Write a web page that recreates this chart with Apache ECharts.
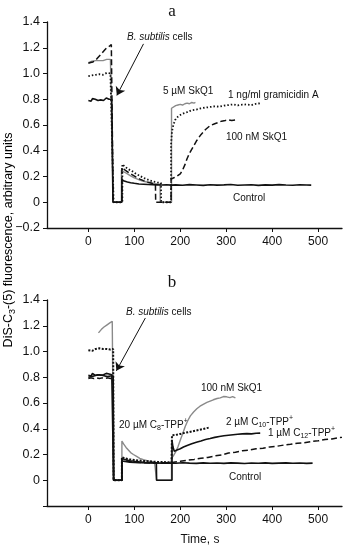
<!DOCTYPE html>
<html>
<head>
<meta charset="utf-8">
<script src="https://cdn.jsdelivr.net/npm/echarts@6/dist/echarts.min.js"></script>
<style>
html, body { margin: 0; padding: 0; background: #fff; }
#chart { width: 343px; height: 547px; }
</style>
</head>
<body>
<div id="chart"></div>
<script>
// Axis ticks (time in seconds, fluorescence in arbitrary units)
const timeTicks = [0, 100, 200, 300, 400, 500];
const timeRange = [-90, 552];
const fluoRange = [-0.2, 1.4];
const fluoStep = 0.2;

// ---- Panel a: traces [time, fluorescence] ----
const ctrlA = [
  [0,0.79],[3,0.80],[6,0.785],[9,0.805],[12,0.795],[15,0.80],[18,0.81],[21,0.79],[24,0.80],[27,0.795],
  [30,0.805],[33,0.79],[36,0.80],[39,0.81],[42,0.795],[45,0.80],[48,0.79],[51,0.80],[53,0.80],
  [53.5,0],[73,0],[73,0.17],[78,0.165],[85,0.158],[92,0.152],[100,0.147],[110,0.142],[120,0.14],
  [130,0.138],[140,0.136],[150,0.135],[160,0.134],[170,0.136],[180,0.133],
  [190,0.135],[205,0.132],[220,0.137],[235,0.134],[250,0.131],[265,0.136],[280,0.133],[295,0.135],
  [310,0.138],[325,0.132],[340,0.134],[355,0.136],[370,0.131],[385,0.135],[400,0.133],[415,0.137],
  [430,0.134],[445,0.132],[460,0.136],[475,0.134],[485,0.133]
];
const skq5A = [
  [0,1.085],[4,1.09],[8,1.095],[12,1.09],[16,1.10],[20,1.095],[24,1.10],[28,1.105],[32,1.10],[36,1.105],
  [40,1.11],[44,1.105],[48,1.11],[52,1.11],
  [54,0],[72,0],[72,0.25],[78,0.235],[85,0.22],[92,0.205],[100,0.19],[110,0.175],[120,0.163],[130,0.155],
  [140,0.148],[150,0.143],[156,0.14],[156.5,0],[181,0],[181,0.73],[185,0.745],[190,0.75],[195,0.755],
  [200,0.76],[205,0.755],[210,0.765],[215,0.77],[220,0.765],[225,0.775],[230,0.77],[233,0.775]
];
const gramA = [
  [0,0.98],[4,0.995],[8,0.985],[12,1.0],[16,0.99],[20,1.005],[24,0.995],[28,1.0],[32,0.99],[36,1.0],
  [40,1.005],[44,0.995],[48,1.0],[52,1.0],
  [55,0],[74,0],[74,0.295],[80,0.275],[88,0.255],[96,0.24],[104,0.22],[112,0.205],[120,0.19],[130,0.175],
  [140,0.162],[150,0.155],[158,0.15],[158.5,0],[180,0],[180,0.45],[182,0.55],[185,0.6],[189,0.64],
  [195,0.665],[201,0.68],[207,0.69],[215,0.70],[225,0.715],[235,0.72],[245,0.73],[255,0.735],[265,0.74],
  [275,0.745],[285,0.742],[295,0.75],[305,0.755],[315,0.76],[325,0.752],[335,0.758],[345,0.76],
  [355,0.755],[365,0.765],[377,0.77]
];
const skq100A = [
  [0,1.08],[5,1.085],[10,1.09],[15,1.10],[20,1.12],[25,1.14],[30,1.16],[35,1.18],[40,1.20],[45,1.21],
  [50,1.225],[53,1.23],
  [54,0],[73,0],[73,0.27],[80,0.25],[88,0.23],[96,0.212],[104,0.195],[112,0.18],[120,0.168],[130,0.155],
  [140,0.145],[146,0.14],[146.5,0],[180,0],[180,0.18],[186,0.19],[192,0.2],[200,0.22],[205,0.25],
  [210,0.29],[215,0.34],[220,0.38],[228,0.43],[236,0.48],[245,0.525],[255,0.565],[265,0.595],
  [275,0.61],[283,0.62],[290,0.63],[298,0.635],[305,0.64],[312,0.635],[322,0.64]
];

// ---- Panel b: traces [time, fluorescence] ----
const ctrlB = [
  [0,0.80],[3,0.815],[6,0.805],[9,0.82],[12,0.81],[15,0.80],[18,0.815],[21,0.81],[24,0.82],[27,0.805],
  [30,0.815],[33,0.80],[36,0.81],[39,0.82],[42,0.805],[45,0.815],[48,0.81],[51,0.82],[54,0.81],
  [55,0],[73,0],[73,0.15],[80,0.145],[90,0.14],[100,0.138],[115,0.136],[130,0.135],[145,0.134],
  [160,0.133],[175,0.135],[190,0.132],[205,0.136],[220,0.133],[235,0.131],[250,0.135],[265,0.132],
  [280,0.134],[295,0.131],[310,0.135],[325,0.133],[340,0.13],[355,0.134],[370,0.132],[385,0.135],
  [400,0.131],[415,0.133],[430,0.135],[445,0.132],[460,0.134],[475,0.131],[488,0.133]
];
const skq100B = [
  [22,1.145],[25,1.16],[28,1.17],[31,1.18],[34,1.19],[37,1.2],[40,1.205],[43,1.215],[46,1.22],[49,1.225],
  [52,1.235],[54,1.24],
  [55,0],[73,0],[73,0.305],[77,0.28],[82,0.255],[87,0.235],[92,0.215],[98,0.2],[105,0.185],[112,0.17],
  [120,0.16],[128,0.152],[136,0.145],[144,0.14],[148,0.138],[148.5,0],[181,0],[181,0.17],[185,0.19],
  [190,0.22],[195,0.26],[200,0.31],[205,0.36],[211,0.42],[216,0.46],[222,0.5],[229,0.53],[236,0.555],
  [243,0.575],[250,0.59],[258,0.605],[265,0.615],[272,0.625],[280,0.635],[287,0.64],[294,0.65],
  [301,0.648],[308,0.642],[314,0.65],[320,0.64]
];
const c8B = [
  [0,1.01],[4,1.02],[8,1.005],[12,1.015],[16,1.02],[20,1.01],[24,1.025],[28,1.015],[32,1.02],[36,1.01],
  [40,1.02],[44,1.025],[48,1.015],[52,1.02],[54,1.02],
  [55,0],[73,0],[73,0.18],[80,0.17],[90,0.162],[100,0.157],[110,0.153],[120,0.15],[130,0.148],
  [140,0.145],[150,0.143],[160,0.142],[170,0.14],[181,0.14],[182,0.35],[190,0.352],[200,0.36],
  [210,0.368],[220,0.375],[230,0.383],[240,0.39],[250,0.398],[258,0.405],[263,0.41]
];
const c10B = [
  [0,0.815],[3,0.825],[6,0.81],[9,0.83],[12,0.82],[15,0.815],[18,0.83],[21,0.82],[24,0.825],[27,0.815],
  [30,0.83],[33,0.82],[36,0.825],[39,0.83],[42,0.815],[45,0.825],[48,0.83],[51,0.82],[54,0.825],
  [55,0],[73,0],[73,0.17],[80,0.16],[90,0.152],[100,0.147],[110,0.143],[120,0.14],[130,0.138],
  [140,0.137],[148,0.136],[148.5,0],[182,0],[182,0.31],[184,0.26],[187,0.225],[193,0.235],[200,0.245],
  [207,0.258],[215,0.27],[225,0.283],[235,0.295],[245,0.305],[255,0.316],[265,0.324],[275,0.333],
  [285,0.34],[295,0.346],[305,0.35],[315,0.354],[325,0.357],[335,0.36],[345,0.362],[355,0.36],
  [365,0.365],[374,0.366]
];
const c12B = [
  [0,0.79],[3,0.80],[6,0.795],[9,0.805],[12,0.79],[15,0.80],[18,0.795],[21,0.805],[24,0.79],[27,0.80],
  [30,0.795],[33,0.80],[36,0.79],[39,0.805],[42,0.795],[45,0.80],[48,0.79],[51,0.80],[54,0.80],
  [55,0],[73,0],[73,0.16],[80,0.15],[90,0.145],[100,0.14],[115,0.137],[130,0.135],[145,0.134],
  [160,0.135],[175,0.136],[185,0.14],[200,0.147],[215,0.156],[230,0.162],[245,0.171],[260,0.177],
  [275,0.189],[290,0.196],[305,0.211],[320,0.218],[335,0.229],[350,0.234],[365,0.244],[380,0.249],
  [395,0.259],[410,0.264],[425,0.273],[440,0.279],[455,0.288],[470,0.292],[485,0.301],[500,0.306],
  [515,0.316],[530,0.321],[545,0.331],[552,0.333]
];

// Arrows pointing at the moment cells are added: [from, to] in [time, fluorescence]
const arrowA = [[120, 1.23], [62, 0.83]];
const arrowB = [[124, 1.26], [61, 0.85]];

const INK = '#111';
const GRAY = '#8a8a8a';
const SANS = '"Liberation Sans", Arial, Helvetica, sans-serif';

function fluoLabel(showNeg) {
  return function (v) {
    const r = Math.round(v * 10) / 10;
    if (r === 0) return '0';
    if (r < 0) return showNeg ? '\u2212' + Math.abs(r).toFixed(1) : '';
    return r.toFixed(1);
  };
}

function xAxisCfg(idx) {
  return {
    gridIndex: idx, type: 'value', min: timeRange[0], max: timeRange[1],
    axisLine: { show: true, onZero: false, lineStyle: { color: INK, width: 1.3 } },
    axisTick: { show: true, customValues: timeTicks, length: 4, lineStyle: { color: INK, width: 1 } },
    axisLabel: { customValues: timeTicks, fontSize: 12, fontFamily: SANS, color: INK, margin: 8 },
    splitLine: { show: false }
  };
}
function yAxisCfg(idx, showNeg) {
  return {
    gridIndex: idx, type: 'value', min: fluoRange[0], max: fluoRange[1], interval: fluoStep,
    axisLine: { show: true, onZero: false, lineStyle: { color: INK, width: 1.3 } },
    axisTick: { show: true, length: 4, lineStyle: { color: INK, width: 1 } },
    axisLabel: { fontSize: 12.5, fontFamily: SANS, color: INK, margin: 7, formatter: fluoLabel(showNeg) },
    splitLine: { show: false }
  };
}

function trace(name, data, idx, color, width, type) {
  return {
    name: name, type: 'line', xAxisIndex: idx, yAxisIndex: idx, data: data,
    showSymbol: false, symbol: 'none', animation: false, silent: true,
    lineStyle: { color: color, width: width, type: type || 'solid' }
  };
}
function arrowSeries(idx, pair) {
  return {
    type: 'line', xAxisIndex: idx, yAxisIndex: idx, data: [], animation: false, silent: true,
    markLine: {
      silent: true, animation: false, symbol: ['none', 'arrow'], symbolSize: 8,
      label: { show: false },
      lineStyle: { color: INK, width: 1, type: 'solid' },
      data: [[{ coord: pair[0] }, { coord: pair[1] }]]
    }
  };
}

const base = { fontSize: 10, fontFamily: SANS, fill: INK, textVerticalAlign: 'middle' };
const richSubSup = {
  n: { fontSize: 10, fontFamily: SANS, color: INK, lineHeight: 14 },
  i: { fontSize: 10, fontFamily: SANS, color: INK, fontStyle: 'italic', lineHeight: 14 },
  sub: { fontSize: 7, fontFamily: SANS, color: INK, verticalAlign: 'bottom', lineHeight: 10 },
  sup: { fontSize: 7, fontFamily: SANS, color: INK, verticalAlign: 'top', lineHeight: 10 }
};
function note(x, y, text) {
  return { type: 'text', x: x, y: y, silent: true,
    style: Object.assign({}, base, { text: text, rich: richSubSup }) };
}

const graphics = [
  { type: 'text', x: 172, y: 12, silent: true,
    style: { text: 'a', font: '17px "Liberation Serif", "Times New Roman", serif', fill: INK, textAlign: 'center', textVerticalAlign: 'middle' } },
  { type: 'text', x: 172, y: 283, silent: true,
    style: { text: 'b', font: '17px "Liberation Serif", "Times New Roman", serif', fill: INK, textAlign: 'center', textVerticalAlign: 'middle' } },
  note(127, 37, '{i|B. subtilis}{n| cells}'),
  note(163, 91, '{n|5 \u00b5M SkQ1}'),
  note(228, 95, '{n|1 ng/ml gramicidin A}'),
  note(226, 137, '{n|100 nM SkQ1}'),
  note(233, 198, '{n|Control}'),
  note(126, 312, '{i|B. subtilis}{n| cells}'),
  note(201, 388, '{n|100 nM SkQ1}'),
  note(119, 425, '{n|20 \u00b5M C}{sub|8}{n|-TPP}{sup|+}'),
  note(226, 422, '{n|2 \u00b5M C}{sub|10}{n|-TPP}{sup|+}'),
  note(268, 433, '{n|1 \u00b5M C}{sub|12}{n|-TPP}{sup|+}'),
  note(229, 477, '{n|Control}'),
  { type: 'text', x: 200, y: 540, silent: true,
    style: { text: 'Time, s', fontSize: 12, fontFamily: SANS, fill: INK, textAlign: 'center', textVerticalAlign: 'middle' } },
  { type: 'text', x: 9, y: 240, rotation: Math.PI / 2, silent: true,
    style: {
      text: '{n|DiS-C}{sub|3}{n|-(5) fluorescence, arbitrary units}',
      textAlign: 'center', textVerticalAlign: 'middle',
      rich: {
        n: { fontSize: 12.5, fontFamily: SANS, color: INK, lineHeight: 16 },
        sub: { fontSize: 9, fontFamily: SANS, color: INK, verticalAlign: 'bottom', lineHeight: 12 }
      }
    } }
];

const chart = echarts.init(document.getElementById('chart'), null, { renderer: 'canvas' });
chart.setOption({
  animation: false,
  backgroundColor: '#fff',
  grid: [
    { left: 47, top: 22, width: 295, height: 206 },
    { left: 47, top: 300, width: 295, height: 206 }
  ],
  xAxis: [xAxisCfg(0), xAxisCfg(1)],
  yAxis: [yAxisCfg(0, true), yAxisCfg(1, false)],
  series: [
    trace('5 \u00b5M SkQ1', skq5A, 0, GRAY, 1.4),
    trace('100 nM SkQ1', skq100A, 0, INK, 1.5, [6, 3]),
    trace('1 ng/ml gramicidin A', gramA, 0, INK, 1.8, [1.5, 2]),
    trace('Control', ctrlA, 0, INK, 1.6),
    arrowSeries(0, arrowA),
    trace('100 nM SkQ1', skq100B, 1, GRAY, 1.4),
    trace('1 \u00b5M C12-TPP+', c12B, 1, INK, 1.5, [6, 3]),
    trace('20 \u00b5M C8-TPP+', c8B, 1, INK, 2, [2, 1.5]),
    trace('2 \u00b5M C10-TPP+', c10B, 1, INK, 1.6),
    trace('Control', ctrlB, 1, INK, 1.6),
    arrowSeries(1, arrowB)
  ],
  graphic: graphics
});
</script>
</body>
</html>
